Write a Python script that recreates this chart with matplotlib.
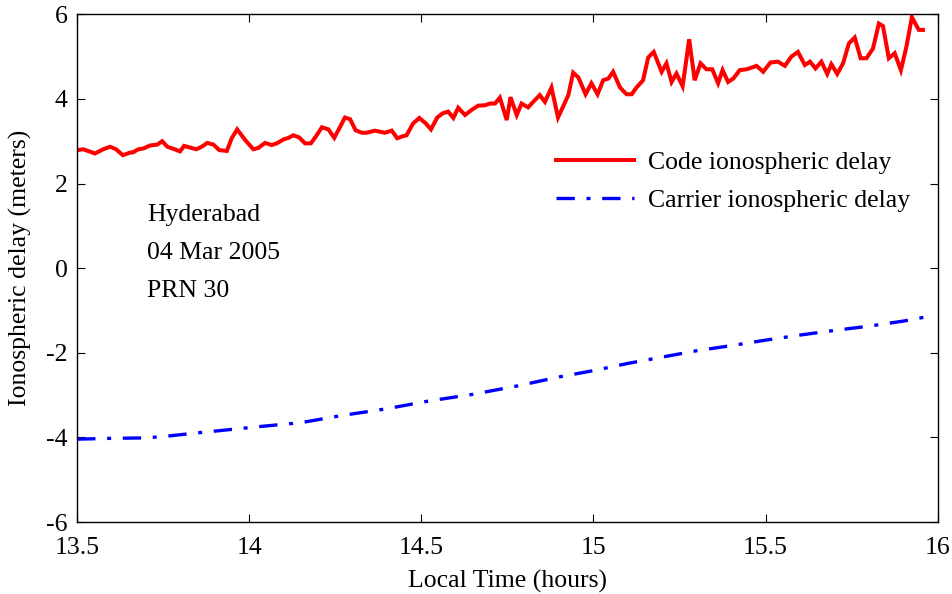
import numpy as np
import matplotlib
matplotlib.use("Agg")
import matplotlib.pyplot as plt

# code-derived ionospheric delay (noisy), local time in hours
code_time = [
    13.501, 13.518, 13.552, 13.576, 13.596, 13.613, 13.633, 13.654, 13.663, 13.678,
    13.693, 13.712, 13.733, 13.747, 13.762, 13.780, 13.799, 13.811, 13.828, 13.846,
    13.862, 13.878, 13.896, 13.913, 13.935, 13.949, 13.965, 13.988, 14.012, 14.026,
    14.046, 14.065, 14.080, 14.099, 14.114, 14.128, 14.145, 14.162, 14.179, 14.196,
    14.211, 14.230, 14.247, 14.264, 14.278, 14.293, 14.309, 14.327, 14.341, 14.365,
    14.394, 14.414, 14.430, 14.447, 14.457, 14.476, 14.494, 14.513, 14.528, 14.546,
    14.562, 14.578, 14.593, 14.607, 14.627, 14.646, 14.665, 14.685, 14.699, 14.714,
    14.728, 14.748, 14.759, 14.777, 14.791, 14.810, 14.825, 14.844, 14.859, 14.878,
    14.897, 14.927, 14.941, 14.956, 14.977, 14.994, 15.012, 15.028, 15.043, 15.057,
    15.077, 15.096, 15.111, 15.125, 15.144, 15.159, 15.175, 15.198, 15.212, 15.227,
    15.241, 15.259, 15.278, 15.294, 15.311, 15.328, 15.345, 15.362, 15.375, 15.391,
    15.406, 15.425, 15.445, 15.474, 15.493, 15.514, 15.536, 15.556, 15.575, 15.594,
    15.614, 15.629, 15.645, 15.662, 15.679, 15.691, 15.708, 15.725, 15.742, 15.759,
    15.776, 15.793, 15.812, 15.829, 15.841, 15.858, 15.875, 15.893, 15.909, 15.925,
    15.945, 15.957,
]
code_delay = [
    2.79, 2.81, 2.71, 2.81, 2.87, 2.81, 2.67, 2.73, 2.74, 2.81,
    2.83, 2.90, 2.92, 3.00, 2.87, 2.82, 2.76, 2.89, 2.85, 2.81,
    2.87, 2.96, 2.92, 2.79, 2.77, 3.07, 3.28, 3.03, 2.81, 2.84,
    2.96, 2.91, 2.95, 3.04, 3.08, 3.14, 3.09, 2.95, 2.95, 3.14,
    3.33, 3.28, 3.08, 3.34, 3.56, 3.52, 3.26, 3.20, 3.20, 3.25,
    3.20, 3.25, 3.07, 3.12, 3.14, 3.42, 3.55, 3.42, 3.28, 3.56,
    3.66, 3.70, 3.55, 3.79, 3.62, 3.74, 3.84, 3.85, 3.89, 3.89,
    4.03, 3.50, 4.04, 3.62, 3.89, 3.80, 3.93, 4.09, 3.93, 4.27,
    3.56, 4.09, 4.62, 4.51, 4.11, 4.37, 4.11, 4.44, 4.48, 4.64,
    4.27, 4.11, 4.11, 4.27, 4.44, 4.98, 5.11, 4.64, 4.84, 4.40,
    4.60, 4.30, 5.41, 4.44, 4.84, 4.70, 4.70, 4.37, 4.68, 4.40,
    4.48, 4.68, 4.70, 4.78, 4.64, 4.86, 4.88, 4.78, 5.00, 5.11,
    4.80, 4.88, 4.72, 4.88, 4.59, 4.82, 4.59, 4.84, 5.31, 5.45,
    4.96, 4.96, 5.19, 5.78, 5.72, 4.96, 5.08, 4.68, 5.23, 5.93,
    5.63, 5.63,
]

# carrier-phase ionospheric delay (smooth)
carrier_time = [
    13.50, 13.60, 13.70, 13.76, 13.85, 13.90, 14.02, 14.15, 14.27, 14.40,
    14.52, 14.65, 14.78, 14.90, 15.00, 15.10, 15.20, 15.30, 15.40, 15.50,
    15.60, 15.70, 15.80, 15.90, 15.96,
]
carrier_delay = [
    -4.04, -4.02, -4.01, -3.97, -3.89, -3.85, -3.75, -3.65, -3.48, -3.32,
    -3.14, -2.98, -2.78, -2.57, -2.42, -2.25, -2.10, -1.95, -1.83, -1.70,
    -1.58, -1.47, -1.37, -1.25, -1.16,
]

x_ticks = [13.5, 14, 14.5, 15, 15.5, 16]
x_tick_labels = ["13.5", "14", "14.5", "15", "15.5", "16"]
y_ticks = [-6, -4, -2, 0, 2, 4, 6]
y_tick_labels = ["-6", "-4", "-2", "0", "2", "4", "6"]
info_lines = ["Hyderabad", "04 Mar 2005", "PRN 30"]

FS = 18.5
plt.rcParams["font.family"] = ["Liberation Serif", "DejaVu Serif"]
plt.rcParams["font.size"] = FS

fig = plt.figure(figsize=(9.52, 5.94), dpi=100)
ax = fig.add_axes([0.081, 0.121, 0.904, 0.855])

ax.plot(code_time, code_delay, color="red", lw=2.9, solid_joinstyle="miter",
        label="Code ionospheric delay")
ax.plot(carrier_time, carrier_delay, color="blue", lw=2.4,
        linestyle=(0, (5.5, 3.5, 1.2, 3.5)), dash_capstyle="butt",
        label="Carrier ionospheric delay")

ax.set_xlim(13.5, 16)
ax.set_ylim(-6, 6)
ax.set_xticks(x_ticks)
ax.set_xticklabels(x_tick_labels)
ax.set_yticks(y_ticks)
ax.set_yticklabels(y_tick_labels)
ax.tick_params(direction="in", top=True, right=True, length=6, width=0.8,
               labelsize=FS)
ax.tick_params(axis="x", pad=11)
ax.tick_params(axis="y", pad=7)
for sp in ax.spines.values():
    sp.set_linewidth(1.0)

ax.set_xlabel("Local Time (hours)", fontsize=FS)
ax.xaxis.set_label_coords(0.5, -0.095)
ax.set_ylabel("Ionospheric delay (meters)", fontsize=FS)
ax.yaxis.set_label_coords(-0.052, 0.5)

for i, line in enumerate(info_lines):
    ax.text(13.703, 1.25 - 0.90 * i, line, fontsize=FS, va="center", ha="left")

ax.legend(loc="upper left", bbox_to_anchor=(0.545, 0.751), frameon=False,
          handlelength=3.0, handletextpad=0.56, labelspacing=0.6, fontsize=FS,
          borderaxespad=0)

fig.savefig("out.png", dpi=100)
